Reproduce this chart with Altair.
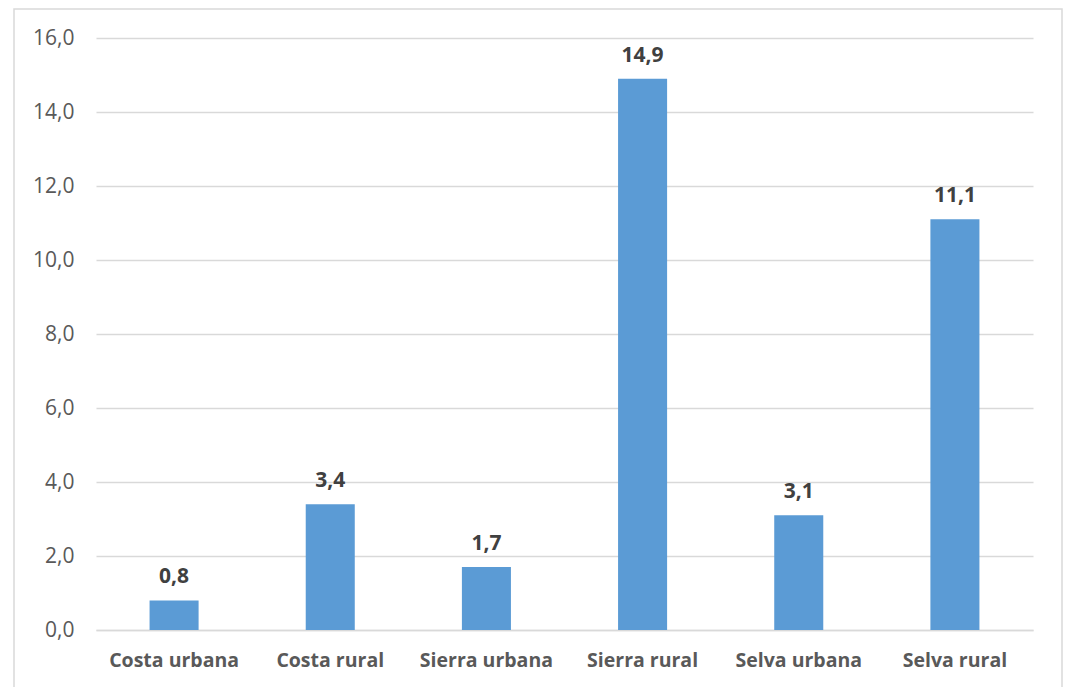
import altair as alt
import pandas as pd

categories = ["Costa urbana", "Costa rural", "Sierra urbana", "Sierra rural", "Selva urbana", "Selva rural"]
values = [0.8, 3.4, 1.7, 14.9, 3.1, 11.1]

df = pd.DataFrame({"cat": categories, "val": values})
df["lbl"] = [f"{v:.1f}".replace(".", ",") for v in values]

FONT = "Open Sans"
W, H = 937, 592

x = alt.X("cat:N", sort=categories, title=None,
          scale=alt.Scale(paddingInner=0.686, paddingOuter=0.343),
          axis=alt.Axis(labelAngle=0, labelFont=FONT, labelFontSize=19.5, labelFontWeight="bold",
                        labelColor="#595959", ticks=False, domain=True, domainColor="#D9D9D9",
                        domainWidth=1.5, labelPadding=21))
y = alt.Y("val:Q", title=None,
          scale=alt.Scale(domain=[0, 16], nice=False),
          axis=alt.Axis(values=[0, 2, 4, 6, 8, 10, 12, 14, 16],
                        labelExpr="replace(format(datum.value, '.1f'), '.', ',')",
                        labelFont=FONT, labelFontSize=21, labelColor="#595959",
                        ticks=False, domain=False, gridColor="#D9D9D9", gridWidth=1.5,
                        labelPadding=22))

bars = alt.Chart(df).mark_bar(color="#5B9BD5").encode(x=x, y=y)
text = alt.Chart(df).mark_text(font=FONT, fontSize=21, fontWeight="bold", color="#404040",
                               baseline="alphabetic", dy=-17).encode(
    x=alt.X("cat:N", sort=categories), y="val:Q", text="lbl:N")

border = alt.Chart(pd.DataFrame({"a": [0]})).mark_rect(
    fill=None, stroke="#D9D9D9", strokeWidth=1.5).encode(
    x=alt.value(-82), x2=alt.value(966), y=alt.value(-29), y2=alt.value(660))

chart = alt.layer(border, bars, text).properties(
    width=W, height=H,
    autosize=alt.AutoSizeParams(type="none"),
    padding={"left": 96, "top": 38, "right": 34, "bottom": 57},
    background="white",
).configure_view(stroke=None)

chart.save("out.html", embed_options={"renderer": "svg", "actions": False})
